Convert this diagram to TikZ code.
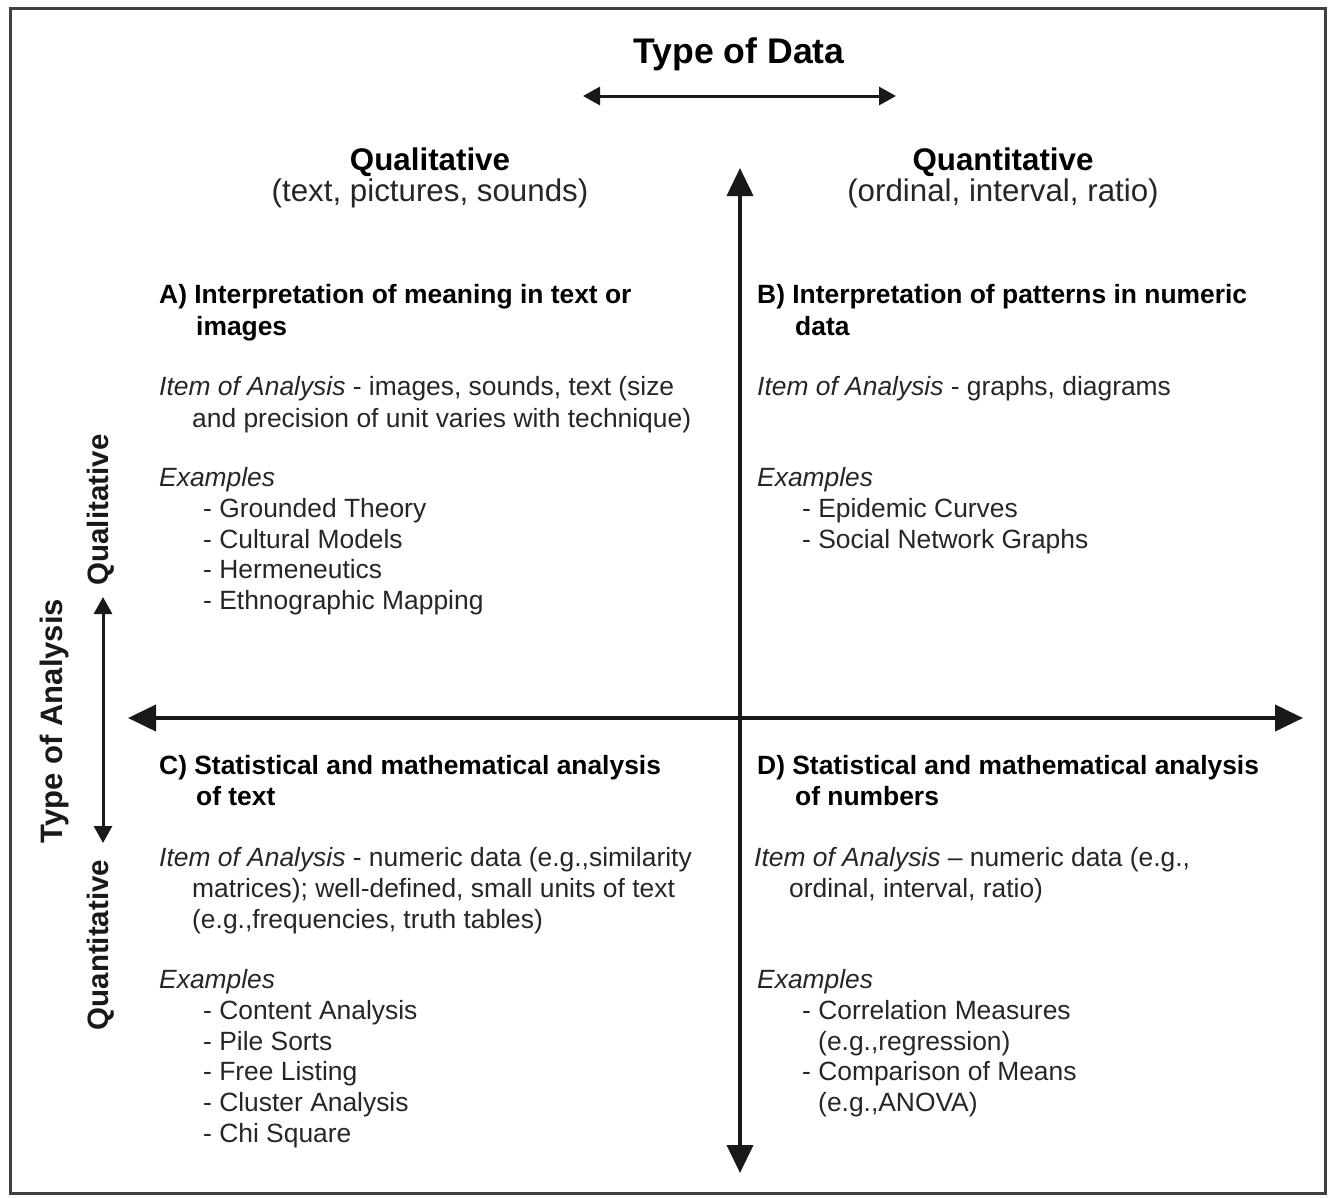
\documentclass[tikz,border=0pt]{standalone}
\usepackage{fontspec}
\setmainfont{Liberation Sans}
\usetikzlibrary{arrows.meta}
\begin{document}
\begin{tikzpicture}[x=1pt,y=-1pt,
  body/.style={anchor=base west, inner sep=0pt, font=\fontsize{26.4}{31}\selectfont, text=black!85},
  bodyb/.style={anchor=base west, inner sep=0pt, font=\fontsize{26.4}{31}\selectfont\bfseries, text=black},
  colhead/.style={anchor=base, inner sep=0pt, font=\fontsize{31.3}{36}\selectfont\bfseries, text=black},
  colsub/.style={anchor=base, inner sep=0pt, font=\fontsize{31.3}{36}\selectfont, text=black!85},
  sidehead/.style={anchor=base, inner sep=0pt, rotate=90, font=\fontsize{29.5}{34}\selectfont\bfseries, text=black!90},
  axis/.style={line width=4pt, draw=black!90, {Triangle[length=28pt,width=26pt]}-{Triangle[length=28pt,width=26pt]}},
  smallaxis/.style={line width=3pt, draw=black!90, {Triangle[length=17pt,width=18pt]}-{Triangle[length=17pt,width=18pt]}}
]
\useasboundingbox[fill=white] (0,0) rectangle (1330,1197);
\draw[line width=3pt, draw=black!75] (10,8) rectangle (1325,1193);

% titles
\node[anchor=base, inner sep=0pt, font=\fontsize{35.6}{40}\selectfont\bfseries] (title) at (739,63) {Type of Data};
\coordinate (tl) at (583,96);
\coordinate (tr) at (896,96);
\draw[smallaxis] (tl) -- (tr);

\node[colhead] (qlh) at (430,170) {Qualitative};
\node[colsub] (qls) at (430,201) {(text, pictures, sounds)};
\node[colhead] (qnh) at (1003,170) {Quantitative};
\node[colsub] (qns) at (1003,201) {(ordinal, interval, ratio)};

% side labels
\node[sidehead, font=\fontsize{31}{36}\selectfont\bfseries] (toa) at (62,721) {Type of Analysis};
\node[sidehead] (sql) at (108,510) {Qualitative};
\node[sidehead] (sqn) at (108,945) {Quantitative};
\coordinate (st) at (103,597);
\coordinate (sb) at (103,843);
\draw[smallaxis] (st) -- (sb);

% axes
\coordinate (vt) at (740,168);
\coordinate (vb) at (740,1173);
\coordinate (hl) at (128,718);
\coordinate (hr) at (1303,718);
\draw[axis] (vb) -- (vt);
\draw[axis] (hl) -- (hr);

% quadrant A
\node[bodyb] (a1) at (159,303) {A) Interpretation of meaning in text or};
\node[bodyb] (a2) at (196,335) {images};
\node[body] (a3) at (159,395) {\textit{Item of Analysis} - images, sounds, text (size};
\node[body] (a4) at (192,427) {and precision of unit varies with technique)};
\node[body] (a5) at (159,486) {\textit{Examples}};
\node[body] (a6) at (203,517) {- Grounded Theory};
\node[body] (a7) at (203,548) {- Cultural Models};
\node[body] (a8) at (203,578) {- Hermeneutics};
\node[body] (a9) at (203,609) {- Ethnographic Mapping};

% quadrant B
\node[bodyb] (b1) at (757,303) {B) Interpretation of patterns in numeric};
\node[bodyb] (b2) at (795,335) {data};
\node[body] (b3) at (757,395) {\textit{Item of Analysis} - graphs, diagrams};
\node[body] (b4) at (757,486) {\textit{Examples}};
\node[body] (b5) at (802,517) {- Epidemic Curves};
\node[body] (b6) at (802,548) {- Social Network Graphs};

% quadrant C
\node[bodyb] (c1) at (159,774) {C) Statistical and mathematical analysis};
\node[bodyb] (c2) at (196,805) {of text};
\node[body] (c3) at (159,866) {\textit{Item of Analysis} - numeric data (e.g.,similarity};
\node[body] (c4) at (192,897) {matrices); well-defined, small units of text};
\node[body] (c5) at (192,928) {(e.g.,frequencies, truth tables)};
\node[body] (c6) at (159,988) {\textit{Examples}};
\node[body] (c7) at (203,1019) {- Content Analysis};
\node[body] (c8) at (203,1050) {- Pile Sorts};
\node[body] (c9) at (203,1080) {- Free Listing};
\node[body] (c10) at (203,1111) {- Cluster Analysis};
\node[body] (c11) at (203,1142) {- Chi Square};

% quadrant D
\node[bodyb] (d1) at (757,774) {D) Statistical and mathematical analysis};
\node[bodyb] (d2) at (795,805) {of numbers};
\node[body] (d3) at (754,866) {\textit{Item of Analysis} -- numeric data (e.g.,};
\node[body] (d4) at (789,897) {ordinal, interval, ratio)};
\node[body] (d5) at (757,988) {\textit{Examples}};
\node[body] (d6) at (802,1019) {- Correlation Measures};
\node[body] (d7) at (818,1050) {(e.g.,regression)};
\node[body] (d8) at (802,1080) {- Comparison of Means};
\node[body] (d9) at (818,1111) {(e.g.,ANOVA)};
\end{tikzpicture}
\end{document}
